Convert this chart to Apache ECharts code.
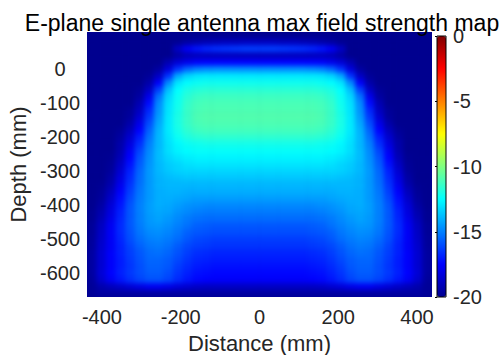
<!DOCTYPE html>
<html>
<head>
<meta charset="utf-8">
<script src="https://cdn.jsdelivr.net/npm/echarts@6/dist/echarts.min.js"></script>
<style>
  html, body { margin: 0; padding: 0; background: #fff; }
  #wrap { position: relative; width: 502px; height: 355px; }
  /* field image sits under the axes chart; soft edges like shaded image */
  #heat { position: absolute; left: 87px; top: 32px; width: 345px; height: 265px; overflow: hidden; background: #00008f; }
  #heatInner { width: 345px; height: 265px; filter: blur(2.5px); }
  #chart { position: absolute; left: 0; top: 0; width: 502px; height: 355px; }
</style>
</head>
<body>
<div id="wrap">
  <div id="heat"><div id="heatInner"></div></div>
  <div id="chart"></div>
</div>
<script>
// cell centres along distance (mm), left to right
const xCells = [-426, -402, -377, -353, -329, -304, -280, -256, -231, -207, -183, -158, -134, -110, -85, -61, -37, -12,
  12, 37, 61, 85, 110, 134, 158, 183, 207, 231, 256, 280, 304, 329, 353, 377, 402, 426];

// cell centres along depth (mm), top to bottom
const depthRows = [100, 80, 60, 40, 20, 0, -20, -40, -60, -80, -100, -120, -140, -160, -180, -200, -220, -240, -260,
  -280, -300, -320, -340, -360, -380, -400, -420, -440, -460, -480, -500, -520, -540, -560, -580, -600, -620, -640, -660];

// max field strength (dB), one row per depth
const fieldDb = [
  [-20,-20,-20,-20,-20,-20,-20,-20,-20,-20,-20,-20,-20,-20,-20,-20,-20,-20,-20,-20,-20,-20,-20,-20,-20,-20,-20,-20,-20,-20,-20,-20,-20,-20,-20,-20],
  [-20,-20,-20,-20,-20,-20,-20,-20,-20,-19.9,-19.6,-19.4,-19.2,-19.1,-19.0,-19.0,-18.9,-18.9,-18.9,-18.9,-19.0,-19.0,-19.1,-19.2,-19.4,-19.6,-19.9,-20,-20,-20,-20,-20,-20,-20,-20,-20],
  [-20,-20,-20,-20,-20,-20,-20,-20,-20,-18.8,-17.7,-17.1,-16.8,-16.6,-16.5,-16.4,-16.3,-16.3,-16.3,-16.3,-16.4,-16.5,-16.6,-16.8,-17.1,-17.7,-18.8,-20,-20,-20,-20,-20,-20,-20,-20,-20],
  [-20,-20,-20,-20,-20,-20,-20,-20,-20,-19.5,-19.1,-19.0,-19.0,-19.0,-19.0,-19.0,-19.0,-19.0,-19.0,-19.0,-19.0,-19.0,-19.0,-19.0,-19.0,-19.1,-19.5,-20,-20,-20,-20,-20,-20,-20,-20,-20],
  [-20,-20,-20,-20,-20,-20,-20,-20,-19.2,-18.4,-17.9,-17.6,-17.5,-17.5,-17.5,-17.5,-17.5,-17.5,-17.5,-17.5,-17.5,-17.5,-17.5,-17.5,-17.6,-17.9,-18.4,-19.2,-20,-20,-20,-20,-20,-20,-20,-20],
  [-20,-20,-20,-20,-20,-20,-20,-19.6,-18.3,-16.5,-15.5,-15.0,-14.8,-14.7,-14.7,-14.7,-14.7,-14.7,-14.7,-14.7,-14.7,-14.7,-14.7,-14.8,-15.0,-15.5,-16.5,-18.3,-19.6,-20,-20,-20,-20,-20,-20,-20],
  [-20,-20,-20,-20,-20,-20,-19.8,-18.8,-16.5,-14.2,-13.3,-13.0,-12.9,-12.9,-12.9,-12.9,-12.9,-12.9,-12.9,-12.9,-12.9,-12.9,-12.9,-12.9,-13.0,-13.3,-14.2,-16.5,-18.8,-19.8,-20,-20,-20,-20,-20,-20],
  [-20,-20,-20,-20,-20,-20,-19.4,-17.6,-14.8,-13.0,-12.5,-12.3,-12.2,-12.2,-12.2,-12.2,-12.2,-12.2,-12.2,-12.2,-12.2,-12.2,-12.2,-12.2,-12.3,-12.5,-13.0,-14.8,-17.6,-19.4,-20,-20,-20,-20,-20,-20],
  [-20,-20,-20,-20,-20,-19.8,-18.8,-16.3,-13.8,-12.5,-12.0,-11.8,-11.7,-11.7,-11.7,-11.7,-11.7,-11.7,-11.7,-11.7,-11.7,-11.7,-11.7,-11.7,-11.8,-12.0,-12.5,-13.8,-16.3,-18.8,-19.8,-20,-20,-20,-20,-20],
  [-20,-20,-20,-20,-20,-19.6,-18.0,-15.3,-13.3,-12.3,-11.7,-11.4,-11.3,-11.3,-11.3,-11.3,-11.3,-11.3,-11.3,-11.3,-11.3,-11.3,-11.3,-11.3,-11.4,-11.7,-12.3,-13.3,-15.3,-18.0,-19.6,-20,-20,-20,-20,-20],
  [-20,-20,-20,-20,-20,-19.2,-17.3,-14.8,-13.1,-12.2,-11.5,-11.2,-11.1,-11.1,-11.1,-11.1,-11.1,-11.1,-11.1,-11.1,-11.1,-11.1,-11.1,-11.1,-11.2,-11.5,-12.2,-13.1,-14.8,-17.3,-19.2,-20,-20,-20,-20,-20],
  [-20,-20,-20,-20,-19.8,-18.9,-16.8,-14.6,-13.0,-12.1,-11.4,-11.1,-11.0,-11.0,-11.0,-11.0,-11.0,-11.0,-11.0,-11.0,-11.0,-11.0,-11.0,-11.0,-11.1,-11.4,-12.1,-13.0,-14.6,-16.8,-18.9,-19.8,-20,-20,-20,-20],
  [-20,-20,-20,-20,-19.7,-18.5,-16.4,-14.4,-12.9,-12.0,-11.4,-11.0,-10.9,-10.9,-10.9,-10.9,-10.9,-10.9,-10.9,-10.9,-10.9,-10.9,-10.9,-10.9,-11.0,-11.4,-12.0,-12.9,-14.4,-16.4,-18.5,-19.7,-20,-20,-20,-20],
  [-20,-20,-20,-20,-19.4,-18.0,-16.0,-14.2,-12.9,-12.0,-11.4,-11.1,-11.0,-11.0,-11.0,-11.0,-11.0,-11.0,-11.0,-11.0,-11.0,-11.0,-11.0,-11.0,-11.1,-11.4,-12.0,-12.9,-14.2,-16.0,-18.0,-19.4,-20,-20,-20,-20],
  [-20,-20,-20,-19.8,-19.0,-17.5,-15.6,-14.0,-12.9,-12.1,-11.6,-11.3,-11.2,-11.2,-11.2,-11.2,-11.2,-11.2,-11.2,-11.2,-11.2,-11.2,-11.2,-11.2,-11.3,-11.6,-12.1,-12.9,-14.0,-15.6,-17.5,-19.0,-19.8,-20,-20,-20],
  [-20,-20,-20,-19.6,-18.6,-17.0,-15.3,-13.9,-13.0,-12.3,-11.9,-11.7,-11.6,-11.6,-11.6,-11.6,-11.6,-11.6,-11.6,-11.6,-11.6,-11.6,-11.6,-11.6,-11.7,-11.9,-12.3,-13.0,-13.9,-15.3,-17.0,-18.6,-19.6,-20,-20,-20],
  [-20,-20,-20,-19.4,-18.2,-16.6,-15.0,-13.9,-13.1,-12.6,-12.3,-12.2,-12.1,-12.1,-12.1,-12.1,-12.1,-12.1,-12.1,-12.1,-12.1,-12.1,-12.1,-12.1,-12.2,-12.3,-12.6,-13.1,-13.9,-15.0,-16.6,-18.2,-19.4,-20,-20,-20],
  [-20,-20,-20,-19.3,-17.8,-16.2,-14.8,-13.8,-13.1,-12.7,-12.5,-12.4,-12.4,-12.4,-12.4,-12.4,-12.4,-12.4,-12.4,-12.4,-12.4,-12.4,-12.4,-12.4,-12.4,-12.5,-12.7,-13.1,-13.8,-14.8,-16.2,-17.8,-19.3,-20,-20,-20],
  [-20,-20,-19.9,-19.1,-17.5,-15.9,-14.7,-13.8,-13.3,-13.0,-12.8,-12.7,-12.7,-12.7,-12.7,-12.7,-12.7,-12.7,-12.7,-12.7,-12.7,-12.7,-12.7,-12.7,-12.7,-12.8,-13.0,-13.3,-13.8,-14.7,-15.9,-17.5,-19.1,-19.9,-20,-20],
  [-20,-20,-19.8,-18.8,-17.2,-15.7,-14.6,-13.9,-13.5,-13.3,-13.1,-13.0,-13.0,-13.0,-13.0,-13.0,-13.0,-13.0,-13.0,-13.0,-13.0,-13.0,-13.0,-13.0,-13.0,-13.1,-13.3,-13.5,-13.9,-14.6,-15.7,-17.2,-18.8,-19.8,-20,-20],
  [-20,-20,-19.7,-18.5,-16.9,-15.5,-14.5,-13.9,-13.6,-13.4,-13.3,-13.3,-13.3,-13.3,-13.3,-13.3,-13.3,-13.3,-13.3,-13.3,-13.3,-13.3,-13.3,-13.3,-13.3,-13.3,-13.4,-13.6,-13.9,-14.5,-15.5,-16.9,-18.5,-19.7,-20,-20],
  [-20,-20,-19.5,-18.2,-16.7,-15.4,-14.5,-14.0,-13.8,-13.7,-13.6,-13.6,-13.6,-13.6,-13.6,-13.6,-13.6,-13.6,-13.6,-13.6,-13.6,-13.6,-13.6,-13.6,-13.6,-13.6,-13.7,-13.8,-14.0,-14.5,-15.4,-16.7,-18.2,-19.5,-20,-20],
  [-20,-19.9,-19.3,-17.9,-16.5,-15.3,-14.5,-14.0,-13.9,-13.9,-13.9,-13.9,-13.9,-13.9,-13.9,-13.9,-13.9,-13.9,-13.9,-13.9,-13.9,-13.9,-13.9,-13.9,-13.9,-13.9,-13.9,-13.9,-14.0,-14.5,-15.3,-16.5,-17.9,-19.3,-19.9,-20],
  [-20,-19.8,-19.0,-17.6,-16.3,-15.2,-14.5,-14.1,-14.0,-14.0,-14.1,-14.1,-14.1,-14.1,-14.1,-14.1,-14.1,-14.1,-14.1,-14.1,-14.1,-14.1,-14.1,-14.1,-14.1,-14.1,-14.0,-14.0,-14.1,-14.5,-15.2,-16.3,-17.6,-19.0,-19.8,-20],
  [-20,-19.7,-18.7,-17.3,-16.1,-15.1,-14.5,-14.1,-14.1,-14.2,-14.3,-14.4,-14.4,-14.4,-14.4,-14.4,-14.4,-14.4,-14.4,-14.4,-14.4,-14.4,-14.4,-14.4,-14.4,-14.3,-14.2,-14.1,-14.1,-14.5,-15.1,-16.1,-17.3,-18.7,-19.7,-20],
  [-20,-19.5,-18.4,-17.1,-15.9,-15.0,-14.4,-14.1,-14.2,-14.4,-14.6,-14.7,-14.8,-14.8,-14.8,-14.8,-14.8,-14.8,-14.8,-14.8,-14.8,-14.8,-14.8,-14.8,-14.7,-14.6,-14.4,-14.2,-14.1,-14.4,-15.0,-15.9,-17.1,-18.4,-19.5,-20],
  [-19.9,-19.3,-18.2,-16.9,-15.8,-15.0,-14.4,-14.2,-14.3,-14.6,-14.8,-15.0,-15.1,-15.1,-15.1,-15.1,-15.1,-15.1,-15.1,-15.1,-15.1,-15.1,-15.1,-15.1,-15.0,-14.8,-14.6,-14.3,-14.2,-14.4,-15.0,-15.8,-16.9,-18.2,-19.3,-19.9],
  [-19.9,-19.1,-18.0,-16.8,-15.8,-15.0,-14.5,-14.3,-14.5,-14.8,-15.1,-15.3,-15.4,-15.4,-15.4,-15.4,-15.4,-15.4,-15.4,-15.4,-15.4,-15.4,-15.4,-15.4,-15.3,-15.1,-14.8,-14.5,-14.3,-14.5,-15.0,-15.8,-16.8,-18.0,-19.1,-19.9],
  [-19.8,-18.9,-17.8,-16.7,-15.8,-15.1,-14.6,-14.5,-14.7,-15.0,-15.3,-15.6,-15.7,-15.8,-15.8,-15.8,-15.8,-15.8,-15.8,-15.8,-15.8,-15.8,-15.8,-15.7,-15.6,-15.3,-15.0,-14.7,-14.5,-14.6,-15.1,-15.8,-16.7,-17.8,-18.9,-19.8],
  [-19.8,-18.8,-17.7,-16.7,-15.9,-15.2,-14.8,-14.7,-14.9,-15.2,-15.6,-15.8,-15.9,-16.0,-16.0,-16.0,-16.0,-16.0,-16.0,-16.0,-16.0,-16.0,-16.0,-15.9,-15.8,-15.6,-15.2,-14.9,-14.7,-14.8,-15.2,-15.9,-16.7,-17.7,-18.8,-19.8],
  [-19.7,-18.7,-17.7,-16.8,-16.0,-15.4,-15.0,-14.9,-15.1,-15.4,-15.8,-16.1,-16.2,-16.3,-16.3,-16.3,-16.3,-16.3,-16.3,-16.3,-16.3,-16.3,-16.3,-16.2,-16.1,-15.8,-15.4,-15.1,-14.9,-15.0,-15.4,-16.0,-16.8,-17.7,-18.7,-19.7],
  [-19.7,-18.6,-17.7,-16.9,-16.2,-15.6,-15.2,-15.1,-15.3,-15.7,-16.1,-16.3,-16.4,-16.5,-16.5,-16.5,-16.5,-16.5,-16.5,-16.5,-16.5,-16.5,-16.5,-16.4,-16.3,-16.1,-15.7,-15.3,-15.1,-15.2,-15.6,-16.2,-16.9,-17.7,-18.6,-19.7],
  [-19.6,-18.5,-17.6,-16.9,-16.3,-15.8,-15.4,-15.3,-15.5,-15.9,-16.3,-16.6,-16.7,-16.8,-16.8,-16.8,-16.8,-16.8,-16.8,-16.8,-16.8,-16.8,-16.8,-16.7,-16.6,-16.3,-15.9,-15.5,-15.3,-15.4,-15.8,-16.3,-16.9,-17.6,-18.5,-19.6],
  [-19.6,-18.5,-17.6,-17.0,-16.4,-15.9,-15.5,-15.5,-15.7,-16.1,-16.5,-16.8,-16.9,-17.0,-17.0,-17.0,-17.0,-17.0,-17.0,-17.0,-17.0,-17.0,-17.0,-16.9,-16.8,-16.5,-16.1,-15.7,-15.5,-15.5,-15.9,-16.4,-17.0,-17.6,-18.5,-19.6],
  [-19.6,-18.5,-17.6,-17.0,-16.5,-16.0,-15.6,-15.6,-15.8,-16.3,-16.7,-17.0,-17.1,-17.2,-17.2,-17.2,-17.2,-17.2,-17.2,-17.2,-17.2,-17.2,-17.2,-17.1,-17.0,-16.7,-16.3,-15.8,-15.6,-15.6,-16.0,-16.5,-17.0,-17.6,-18.5,-19.6],
  [-19.6,-18.4,-17.5,-16.9,-16.4,-16.0,-15.7,-15.7,-16.0,-16.5,-16.9,-17.2,-17.3,-17.4,-17.4,-17.4,-17.4,-17.4,-17.4,-17.4,-17.4,-17.4,-17.4,-17.3,-17.2,-16.9,-16.5,-16.0,-15.7,-15.7,-16.0,-16.4,-16.9,-17.5,-18.4,-19.6],
  [-19.7,-18.6,-17.7,-17.1,-16.6,-16.2,-15.9,-15.9,-16.2,-16.7,-17.1,-17.4,-17.5,-17.6,-17.6,-17.6,-17.6,-17.6,-17.6,-17.6,-17.6,-17.6,-17.6,-17.5,-17.4,-17.1,-16.7,-16.2,-15.9,-15.9,-16.2,-16.6,-17.1,-17.7,-18.6,-19.7],
  [-19.8,-19.3,-19.0,-18.7,-18.4,-18.1,-17.8,-17.8,-18.0,-18.3,-18.5,-18.7,-18.8,-18.8,-18.8,-18.8,-18.8,-18.8,-18.8,-18.8,-18.8,-18.8,-18.8,-18.8,-18.7,-18.5,-18.3,-18.0,-17.8,-17.8,-18.1,-18.4,-18.7,-19.0,-19.3,-19.8],
  [-19.8,-19.6,-19.6,-19.6,-19.6,-19.6,-19.6,-19.6,-19.6,-19.6,-19.6,-19.6,-19.6,-19.6,-19.6,-19.6,-19.6,-19.6,-19.6,-19.6,-19.6,-19.6,-19.6,-19.6,-19.6,-19.6,-19.6,-19.6,-19.6,-19.6,-19.6,-19.6,-19.6,-19.6,-19.6,-19.8]
];

const xTickLabels = [-400, -200, 0, 200, 400];
const yTickLabels = [0, -100, -200, -300, -400, -500, -600];

// jet colormap, evenly spaced stops
const jet = ['#00008f', '#0000ff', '#0080ff', '#00ffff', '#80ff80', '#ffff00', '#ff8000', '#ff0000', '#800000'];

const FONT = '"Liberation Sans", Arial, sans-serif';
const INK = '#262626';

const cells = [];
fieldDb.forEach((row, j) => {
  row.forEach((v, i) => cells.push([i, j, v]));
});

// the field image itself
const heat = echarts.init(document.getElementById('heatInner'), null, { renderer: 'svg' });
heat.setOption({
  animation: false,
  grid: { left: 0, right: 0, top: 0, bottom: 0, outerBoundsMode: 'none', containLabel: false },
  xAxis: { type: 'category', data: xCells, show: false },
  yAxis: { type: 'category', data: depthRows, inverse: true, show: false },
  visualMap: { type: 'continuous', min: -20, max: 0, show: false, inRange: { color: jet } },
  series: [
    {
      type: 'heatmap',
      data: cells,
      emphasis: { disabled: true },
      itemStyle: { borderWidth: 0 },
    },
  ],
});

// axes, labels, title and colorbar
const chart = echarts.init(document.getElementById('chart'), null, { renderer: 'svg' });
chart.setOption({
  animation: false,
  backgroundColor: 'transparent',
  textStyle: { fontFamily: FONT },
  title: {
    text: 'E-plane single antenna max field strength map',
    left: 257,
    top: 6,
    textAlign: 'center',
    textStyle: { fontSize: 23, fontWeight: 'normal', color: '#000', fontFamily: FONT },
  },
  grid: [
    { left: 87, top: 32, width: 345, height: 265, outerBoundsMode: 'none', containLabel: false },
    {
      left: 437, top: 36, width: 9, height: 261, outerBoundsMode: 'none', containLabel: false,
      show: true, backgroundColor: 'transparent', borderColor: '#000', borderWidth: 1, z: 10,
    },
  ],
  xAxis: [
    {
      type: 'value',
      gridIndex: 0,
      position: 'bottom',
      min: -438,
      max: 438,
      splitNumber: 4,
      axisLine: { show: false },
      axisTick: { show: false },
      splitLine: { show: false },
      axisLabel: {
        fontSize: 20,
        color: INK,
        margin: 10,
        formatter: (v) => (xTickLabels.includes(v) ? String(v) : ''),
      },
      name: 'Distance (mm)',
      nameLocation: 'middle',
      nameGap: 35,
      nameTextStyle: { fontSize: 22, color: INK },
    },
    { type: 'value', gridIndex: 1, min: 0, max: 1, show: false },
  ],
  yAxis: [
    {
      type: 'value',
      gridIndex: 0,
      position: 'left',
      min: -670,
      max: 110,
      splitNumber: 7,
      axisLine: { show: false },
      axisTick: { show: false },
      splitLine: { show: false },
      axisLabel: {
        fontSize: 20,
        color: INK,
        align: 'center',
        margin: 27,
        formatter: (v) => (yTickLabels.includes(v) ? String(v) : ''),
      },
      name: 'Depth (mm)',
      nameLocation: 'middle',
      nameGap: 38,
      nameTextStyle: { fontSize: 22, color: INK },
    },
    {
      type: 'value',
      gridIndex: 1,
      position: 'right',
      min: -20,
      max: 0,
      interval: 5,
      axisLine: { show: false },
      axisTick: { show: true, inside: true, length: 2, lineStyle: { color: '#000' } },
      splitLine: { show: false },
      axisLabel: { fontSize: 20, color: INK, margin: 7 },
    },
  ],
  visualMap: {
    type: 'continuous',
    seriesIndex: [],
    min: -20,
    max: 0,
    orient: 'vertical',
    left: 437,
    top: 36,
    itemWidth: 9,
    itemHeight: 261,
    padding: 0,
    calculable: false,
    hoverLink: false,
    inRange: { color: jet },
  },
  series: [],
});
</script>
</body>
</html>
